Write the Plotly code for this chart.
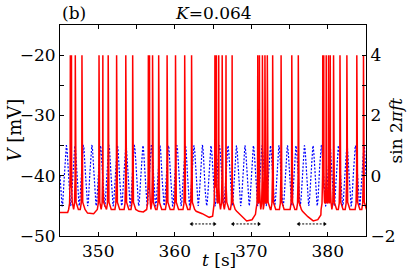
import numpy as np
import plotly.graph_objects as go

# ---- data ----
K_label = "0.064"
t_range = [345, 385]
V_range = [-50, -15]
sin_range = [-2, 5]
f_drive = 0.9  # Hz, period ~1.11 s

spike_times = [346.35, 346.5, 347.0, 347.87, 350.1, 350.6, 351.3, 352.4, 353.6, 354.5,
               356.55, 356.7, 357.1, 357.9, 359.0, 360.1, 361.3, 362.2,
               365.25, 365.45, 365.75, 366.2, 366.7, 367.5,
               370.85, 371.07, 371.46, 371.79, 372.1, 372.8, 373.9, 375.3, 376.15,
               379.35, 379.48, 379.8, 380.1, 380.33, 380.76, 381.6, 382.5, 383.8, 384.67]
spike_peak = -20.0
spike_foot = -45.6

base_t = [345.0, 346.0, 348.6, 349.4, 355.3, 355.9,
          362.8, 363.6, 364.5, 364.95,
          368.1, 368.7, 369.4, 370.1, 370.55,
          376.7, 377.4, 378.1, 378.7, 379.1, 385.0]
base_V = [-46.1, -46.1, -46.2, -46.3, -45.9, -46.0,
          -45.9, -46.3, -46.9, -46.7,
          -45.9, -46.6, -47.5, -47.3, -46.4,
          -45.9, -46.8, -47.5, -47.3, -46.5, -45.7]

arrow_start = [362.2, 367.6, 376.2]
arrow_end = [365.2, 371.0, 379.6]
arrow_V = -48.0

# ---- build red trace (spike shapes + baseline) ----
pre = [(-0.22, spike_foot), (-0.1, -44.6), (-0.025, -40.0)]
post = [(0.025, -42.0), (0.1, -44.4), (0.4, spike_foot)]
pts = []
for i, ts in enumerate(spike_times):
    prev_ts = spike_times[i - 1] if i > 0 else -1e9
    next_ts = spike_times[i + 1] if i < len(spike_times) - 1 else 1e9
    for dt, v in pre:
        if ts + dt > prev_ts + 0.1:
            pts.append((ts + dt, v))
    pts.append((ts, spike_peak))
    for dt, v in post:
        if ts + dt < next_ts - 0.1:
            pts.append((ts + dt, v))
for bt, bv in zip(base_t, base_V):
    if all(not (ts - 0.22 <= bt <= ts + 0.4) for ts in spike_times):
        pts.append((bt, bv))
pts.sort()
red_t = [p[0] for p in pts]
red_V = [p[1] for p in pts]

sin_t = np.linspace(t_range[0], t_range[1], 3000)
sin_v = np.sin(2 * np.pi * f_drive * sin_t)

font_family = "DejaVu Serif"
fig = go.Figure()
fig.add_trace(go.Scatter(x=sin_t, y=sin_v, mode="lines", yaxis="y",
                         line=dict(color="#0000ff", width=1.2, dash="2px,1.6px"),
                         showlegend=False, hoverinfo="skip"))
fig.add_trace(go.Scatter(x=red_t, y=red_V, mode="lines", yaxis="y2",
                         line=dict(color="#ff0000", width=1.5),
                         showlegend=False, hoverinfo="skip"))
for a, b in zip(arrow_start, arrow_end):
    fig.add_trace(go.Scatter(x=[a, b], y=[arrow_V, arrow_V], mode="lines+markers", yaxis="y2",
                             line=dict(color="black", width=1, dash="2px,1.5px"),
                             marker=dict(symbol=["triangle-left", "triangle-right"], size=4,
                                         color="black"),
                             showlegend=False, hoverinfo="skip"))

axis_common = dict(showline=True, linecolor="black", linewidth=1, ticks="inside",
                   ticklen=4, tickcolor="black", showgrid=False, zeroline=False,
                   tickfont=dict(family=font_family, size=17, color="black"))

fig.update_layout(
    width=407, height=273,
    margin=dict(l=60, r=40, t=25, b=35),
    paper_bgcolor="white", plot_bgcolor="white",
    font=dict(family=font_family, size=17, color="black"),
    xaxis=dict(range=t_range, tick0=350, dtick=10, mirror="ticks",
               minor=dict(ticks="inside", ticklen=4, dtick=5, tickcolor="black"),
               **axis_common),
    yaxis=dict(range=sin_range, side="right", tick0=0, dtick=2,
               minor=dict(ticks="inside", ticklen=4, dtick=1, tickcolor="black"),
               **axis_common),
    yaxis2=dict(range=V_range, side="left", overlaying="y", tick0=-50, dtick=10,
                minor=dict(ticks="inside", ticklen=4, dtick=5, tickcolor="black"),
                **axis_common),
    annotations=[
        dict(text="(b)", xref="paper", yref="paper", x=0, y=1, xanchor="left",
             yanchor="bottom", yshift=0, showarrow=False, font=dict(size=17)),
        dict(text="<i>K</i>=" + K_label, xref="paper", yref="paper", x=0.5, y=1,
             xanchor="center", yanchor="bottom", yshift=0, showarrow=False, font=dict(size=17)),
        dict(text="<i>V</i> [mV]", xref="paper", yref="paper", x=0, y=0.5,
             xanchor="center", yanchor="middle", xshift=-46, textangle=-90,
             showarrow=False, font=dict(size=18)),
        dict(text="<i>t</i> [s]", xref="paper", yref="paper", x=0.52, y=0,
             xanchor="center", yanchor="middle", yshift=-24, showarrow=False, font=dict(size=17)),
        dict(text="sin 2<i>πft</i>", xref="paper", yref="paper", x=1, y=0.5,
             xanchor="center", yanchor="middle", xshift=29, textangle=-90,
             showarrow=False, font=dict(size=17)),
    ],
)

fig.write_html("out.html", config={"displayModeBar": False},
               post_script="document.body.style.margin='0';")
